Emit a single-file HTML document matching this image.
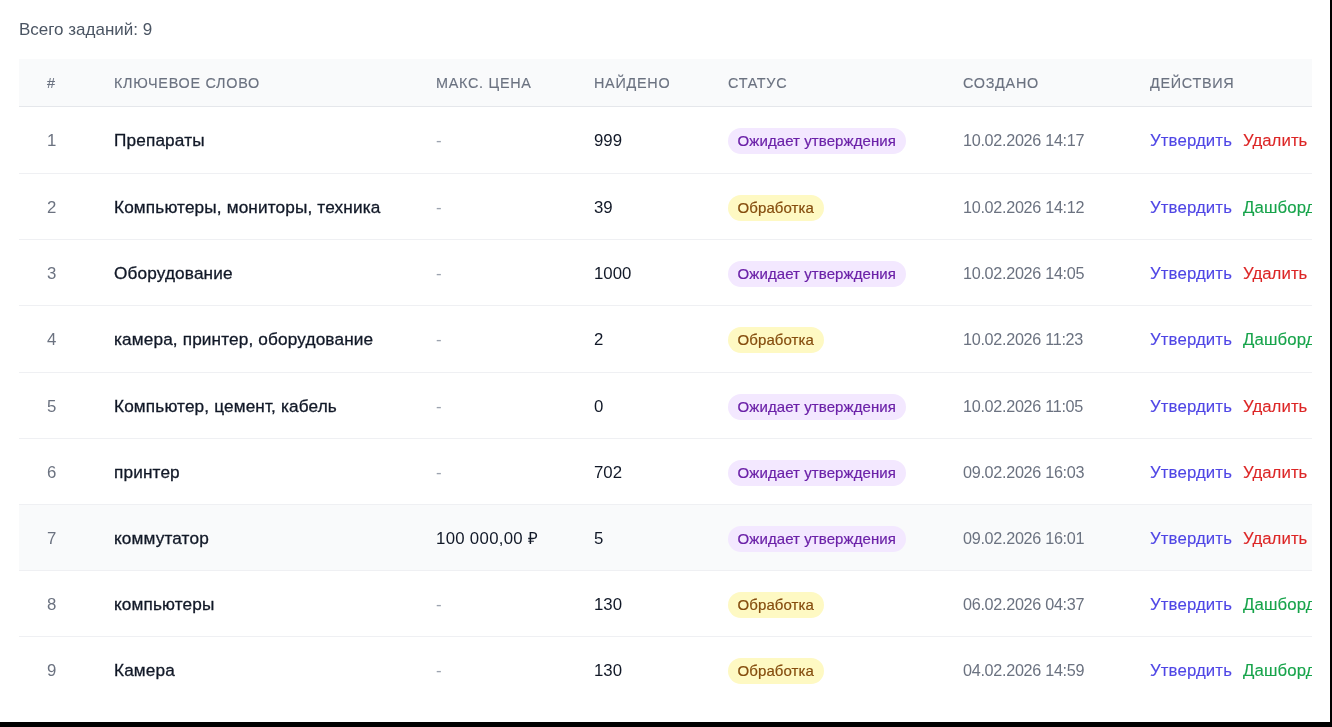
<!DOCTYPE html><html><head><meta charset="utf-8"><style>
html,body{margin:0;padding:0;}
html{background:#000;}
body{width:1332px;height:727px;position:relative;overflow:hidden;background:#000;font-family:"Liberation Sans",sans-serif;}
.page{position:absolute;left:0;top:0;width:1330px;height:722px;background:#fff;overflow:hidden;}
.total{will-change:transform;position:absolute;left:19px;top:20px;font-size:17px;line-height:20px;color:#4b5563;white-space:nowrap;}
.wrap{position:absolute;left:19px;top:59px;width:1293px;height:663px;overflow:hidden;}
.head{position:absolute;left:0;top:0;width:1293px;height:47px;background:#f9fafb;border-bottom:1px solid #e5e7eb;}
.th{will-change:transform;position:absolute;top:16px;font-size:14.4px;line-height:16px;color:#6b7280;letter-spacing:0.72px;white-space:nowrap;-webkit-text-stroke:0.15px #6b7280;}
.row{position:absolute;left:0;width:1293px;}
.row.b{border-bottom:1px solid #eff0f3;}
.row.hov{background:#f9fafb;}
.td{position:absolute;font-size:16.8px;line-height:20px;white-space:nowrap;will-change:transform;}
.num{color:#6b7280;}
.kw{color:#111827;-webkit-text-stroke:0.3px #111827;letter-spacing:0.15px;font-size:17.2px;}
.dash{color:#9ca3af;}
.cnt{color:#111827;}
.price{letter-spacing:0.3px;}
.date{color:#6b7280;font-size:16.2px;letter-spacing:-0.3px;}
.badge{will-change:transform;position:absolute;height:26px;border-radius:13px;font-size:15px;line-height:25.8px;padding:0 9.6px;letter-spacing:0.08px;white-space:nowrap;-webkit-text-stroke:0.2px currentColor;}
.bp{background:#f3e8ff;color:#6b21a8;}
.by{background:#fef9c3;color:#854d0e;}
.a1{color:#4f46e5;-webkit-text-stroke:0.12px #4f46e5;letter-spacing:0.12px;}
.a2{color:#dc2626;-webkit-text-stroke:0.12px #dc2626;letter-spacing:0.05px;}
.a3{color:#16a34a;-webkit-text-stroke:0.12px #16a34a;letter-spacing:0.12px;}
</style></head><body><div class="page">
<div class="total">Всего заданий: 9</div>
<div class="wrap">
<div class="head">
<div class="th" style="left:28px">#</div>
<div class="th" style="left:95px">КЛЮЧЕВОЕ СЛОВО</div>
<div class="th" style="left:417px">МАКС. ЦЕНА</div>
<div class="th" style="left:575px">НАЙДЕНО</div>
<div class="th" style="left:709px">СТАТУС</div>
<div class="th" style="left:944px">СОЗДАНО</div>
<div class="th" style="left:1131px">ДЕЙСТВИЯ</div>
</div>
<div class="row b" style="top:48px;height:66px">
<div class="td num" style="left:28px;top:24px">1</div>
<div class="td kw" style="left:95px;top:23px">Препараты</div>
<div class="td dash" style="left:417px;top:24px">-</div>
<div class="td cnt" style="left:575px;top:24px">999</div>
<div class="badge bp" style="left:709px;top:21px">Ожидает утверждения</div>
<div class="td date" style="left:944px;top:23px">10.02.2026 14:17</div>
<div class="td a1" style="left:1131px;top:24px">Утвердить</div>
<div class="td a2" style="left:1224px;top:24px">Удалить</div>
</div>
<div class="row b" style="top:115px;height:65px">
<div class="td num" style="left:28px;top:24px">2</div>
<div class="td kw" style="left:95px;top:23px">Компьютеры, мониторы, техника</div>
<div class="td dash" style="left:417px;top:24px">-</div>
<div class="td cnt" style="left:575px;top:24px">39</div>
<div class="badge by" style="left:709px;top:21px">Обработка</div>
<div class="td date" style="left:944px;top:23px">10.02.2026 14:12</div>
<div class="td a1" style="left:1131px;top:24px">Утвердить</div>
<div class="td a3" style="left:1224px;top:24px">Дашборд</div>
</div>
<div class="row b" style="top:181px;height:65px">
<div class="td num" style="left:28px;top:24px">3</div>
<div class="td kw" style="left:95px;top:23px">Оборудование</div>
<div class="td dash" style="left:417px;top:24px">-</div>
<div class="td cnt" style="left:575px;top:24px">1000</div>
<div class="badge bp" style="left:709px;top:21px">Ожидает утверждения</div>
<div class="td date" style="left:944px;top:23px">10.02.2026 14:05</div>
<div class="td a1" style="left:1131px;top:24px">Утвердить</div>
<div class="td a2" style="left:1224px;top:24px">Удалить</div>
</div>
<div class="row b" style="top:247px;height:66px">
<div class="td num" style="left:28px;top:24px">4</div>
<div class="td kw" style="left:95px;top:23px">камера, принтер, оборудование</div>
<div class="td dash" style="left:417px;top:24px">-</div>
<div class="td cnt" style="left:575px;top:24px">2</div>
<div class="badge by" style="left:709px;top:21px">Обработка</div>
<div class="td date" style="left:944px;top:23px">10.02.2026 11:23</div>
<div class="td a1" style="left:1131px;top:24px">Утвердить</div>
<div class="td a3" style="left:1224px;top:24px">Дашборд</div>
</div>
<div class="row b" style="top:314px;height:65px">
<div class="td num" style="left:28px;top:24px">5</div>
<div class="td kw" style="left:95px;top:23px">Компьютер, цемент, кабель</div>
<div class="td dash" style="left:417px;top:24px">-</div>
<div class="td cnt" style="left:575px;top:24px">0</div>
<div class="badge bp" style="left:709px;top:21px">Ожидает утверждения</div>
<div class="td date" style="left:944px;top:23px">10.02.2026 11:05</div>
<div class="td a1" style="left:1131px;top:24px">Утвердить</div>
<div class="td a2" style="left:1224px;top:24px">Удалить</div>
</div>
<div class="row b" style="top:380px;height:65px">
<div class="td num" style="left:28px;top:24px">6</div>
<div class="td kw" style="left:95px;top:23px">принтер</div>
<div class="td dash" style="left:417px;top:24px">-</div>
<div class="td cnt" style="left:575px;top:24px">702</div>
<div class="badge bp" style="left:709px;top:21px">Ожидает утверждения</div>
<div class="td date" style="left:944px;top:23px">09.02.2026 16:03</div>
<div class="td a1" style="left:1131px;top:24px">Утвердить</div>
<div class="td a2" style="left:1224px;top:24px">Удалить</div>
</div>
<div class="row b hov" style="top:446px;height:65px">
<div class="td num" style="left:28px;top:24px">7</div>
<div class="td kw" style="left:95px;top:23px">коммутатор</div>
<div class="td cnt price" style="left:417px;top:24px">100 000,00 ₽</div>
<div class="td cnt" style="left:575px;top:24px">5</div>
<div class="badge bp" style="left:709px;top:21px">Ожидает утверждения</div>
<div class="td date" style="left:944px;top:23px">09.02.2026 16:01</div>
<div class="td a1" style="left:1131px;top:24px">Утвердить</div>
<div class="td a2" style="left:1224px;top:24px">Удалить</div>
</div>
<div class="row b" style="top:512px;height:65px">
<div class="td num" style="left:28px;top:24px">8</div>
<div class="td kw" style="left:95px;top:23px">компьютеры</div>
<div class="td dash" style="left:417px;top:24px">-</div>
<div class="td cnt" style="left:575px;top:24px">130</div>
<div class="badge by" style="left:709px;top:21px">Обработка</div>
<div class="td date" style="left:944px;top:23px">06.02.2026 04:37</div>
<div class="td a1" style="left:1131px;top:24px">Утвердить</div>
<div class="td a3" style="left:1224px;top:24px">Дашборд</div>
</div>
<div class="row" style="top:578px;height:66px">
<div class="td num" style="left:28px;top:24px">9</div>
<div class="td kw" style="left:95px;top:23px">Камера</div>
<div class="td dash" style="left:417px;top:24px">-</div>
<div class="td cnt" style="left:575px;top:24px">130</div>
<div class="badge by" style="left:709px;top:21px">Обработка</div>
<div class="td date" style="left:944px;top:23px">04.02.2026 14:59</div>
<div class="td a1" style="left:1131px;top:24px">Утвердить</div>
<div class="td a3" style="left:1224px;top:24px">Дашборд</div>
</div>
</div></div></body></html>
